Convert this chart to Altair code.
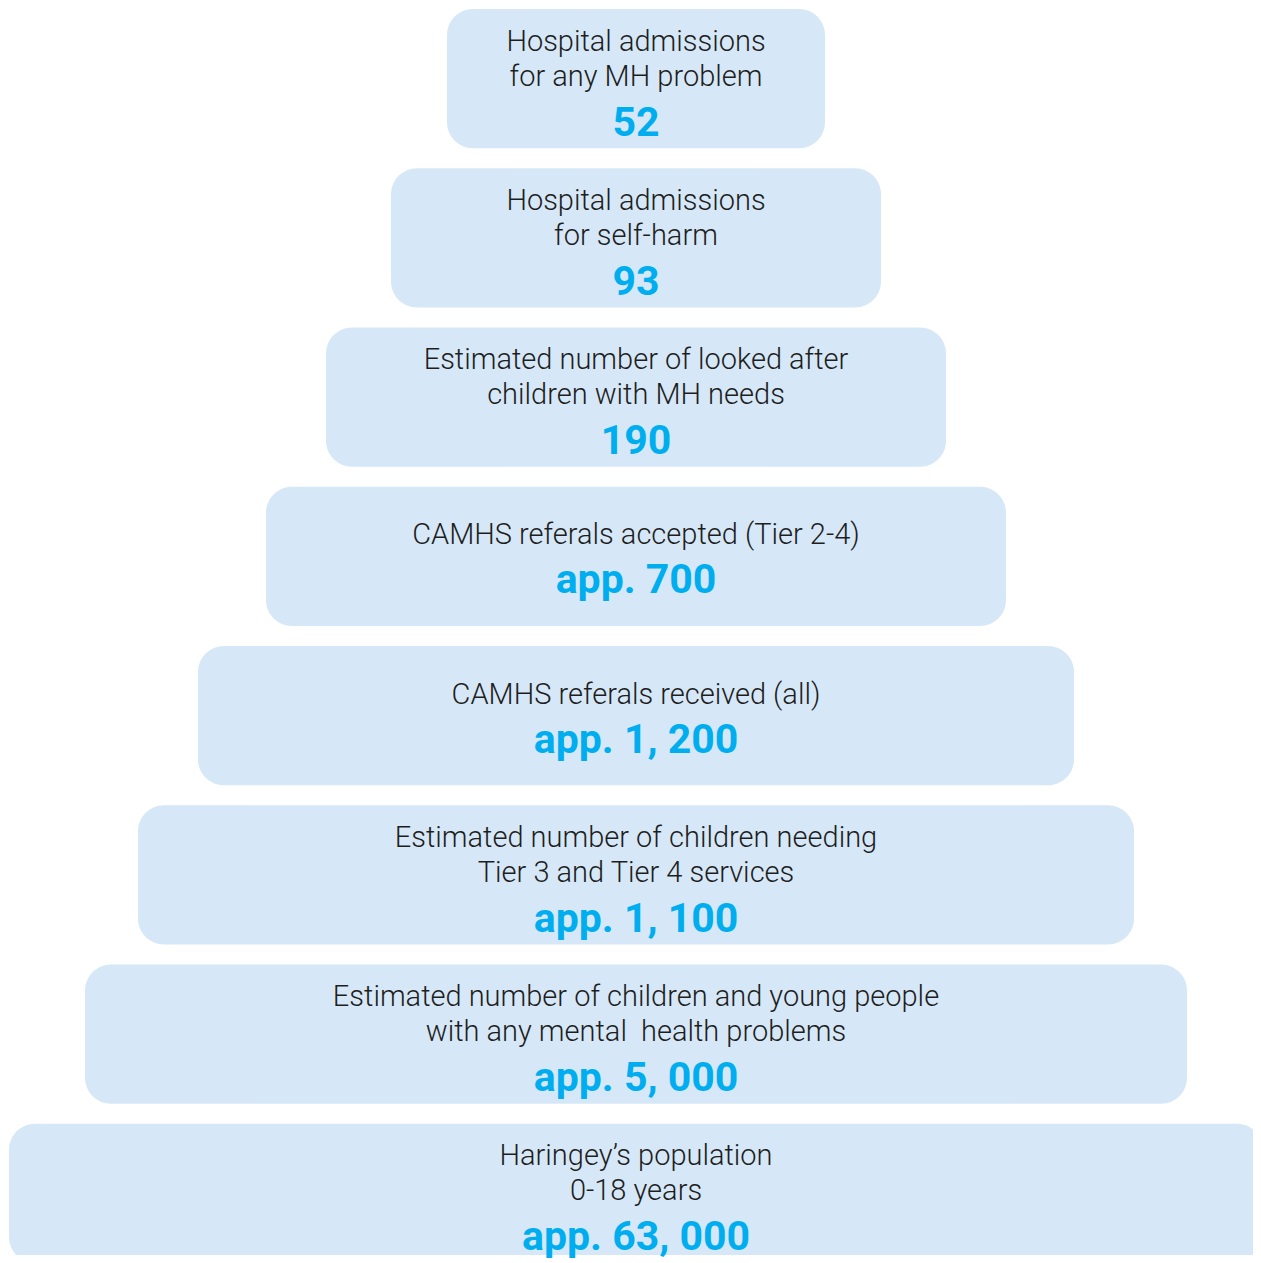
import altair as alt
import pandas as pd

levels = ["L1", "L2", "L3", "L4", "L5", "L6", "L7", "L8"]
line1 = [
    "Hospital admissions",
    "Hospital admissions",
    "Estimated number of looked after",
    "CAMHS referals accepted (Tier 2-4)",
    "CAMHS referals received (all)",
    "Estimated number of children needing",
    "Estimated number of children and young people",
    "Haringey’s population",
]
line2 = [
    "for any MH problem",
    "for self-harm",
    "children with MH needs",
    "",
    "",
    "Tier 3 and Tier 4 services",
    "with any mental\u00a0 health problems",
    "0-18 years",
]
values = ["52", "93", "190", "app. 700", "app. 1, 200", "app. 1, 100", "app. 5, 000", "app. 63, 000"]

# pyramid layout: half width of each box (px units of the x scale)
half_widths = [189, 245, 310, 370, 438, 498, 551, 627]

df = pd.DataFrame({
    "level": levels,
    "line1": line1,
    "line2": line2,
    "value": values,
    "nlines": [2 if l2 else 1 for l2 in line2],
    "xl": [-h for h in half_widths],
    "xr": half_widths,
})

W, H = 1245, 1247          # visible view (fits inside the page margins)
XR, YR = 1253, 1255        # scale ranges (bottom/right box runs to the edge)
FILL = "#D6E8F7"
NUM = "#00AEEF"
TXT = "#1E1E1E"
FONT = "Roboto"

xs = alt.Scale(domain=[-628, 625], range=[0, XR])
ys = alt.Scale(domain=levels, range=[1, YR], paddingInner=0.125, paddingOuter=0)

base = alt.Chart(df)

boxes = base.mark_rect(cornerRadius=26, color=FILL, clip=True).encode(
    x=alt.X("xl:Q", scale=xs, axis=None),
    x2="xr:Q",
    y=alt.Y("level:N", scale=ys, axis=None, sort=levels),
)

def txt(field, dy, size, color, weight, n):
    return base.transform_filter(alt.datum.nlines == n).mark_text(
        dy=dy, fontSize=size, color=color, font=FONT, fontWeight=weight,
        align="center", baseline="middle",
    ).encode(
        x=alt.value(628),
        y=alt.Y("level:N", scale=ys, axis=None, sort=levels),
        text=f"{field}:N",
    )

layers = [
    boxes,
    txt("line1", -37, 29, TXT, 300, 2),
    txt("line2", -2, 29, TXT, 300, 2),
    txt("value", 45, 41, NUM, "bold", 2),
    txt("line1", -21, 29, TXT, 300, 1),
    txt("value", 25, 41, NUM, "bold", 1),
]

chart = alt.layer(*layers).properties(
    width=W, height=H, padding=0, background="white"
).configure_view(stroke=None)

chart.save("out.html", embed_options={"renderer": "svg", "actions": False})
